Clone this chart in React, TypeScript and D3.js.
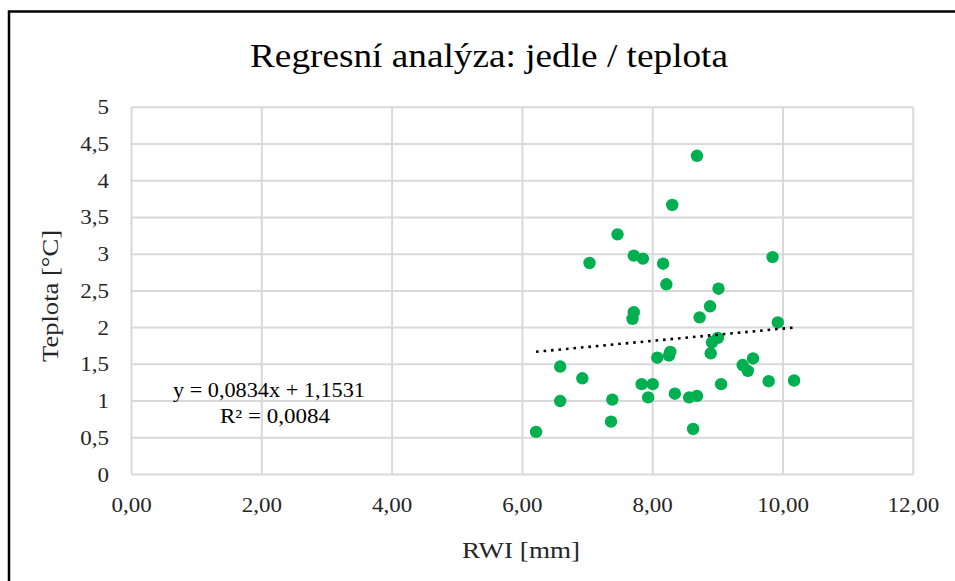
import * as d3 from 'd3';

const W = 955;
const H = 581;

// RWI [mm] vs Teplota [°C]
const rwi = [
  8.30, 7.46, 7.71, 7.85, 7.03, 8.16, 8.21, 7.71, 7.69, 8.68,
  9.84, 9.01, 8.88, 8.07, 8.25, 8.27, 6.58, 6.92, 7.83, 8.00,
  7.93, 8.34, 6.58, 7.38, 7.36, 6.21, 8.72, 9.92, 9.00, 8.91,
  8.89, 9.54, 9.38, 9.46, 9.05, 9.78, 10.17, 8.56, 8.68, 8.62,
];
const teplota = [
  3.67, 3.27, 2.98, 2.94, 2.88, 2.87, 2.59, 2.21, 2.12, 4.34,
  2.96, 2.53, 2.29, 1.59, 1.62, 1.67, 1.47, 1.31, 1.23, 1.23,
  1.05, 1.10, 1.00, 1.02, 0.72, 0.58, 2.14, 2.07, 1.86, 1.80,
  1.65, 1.58, 1.49, 1.41, 1.23, 1.27, 1.28, 1.05, 1.07, 0.62,
];
const xTicks = [0, 2, 4, 6, 8, 10, 12];
const yTicks = [0, 0.5, 1, 1.5, 2, 2.5, 3, 3.5, 4, 4.5, 5];
const slope = 0.0834;
const intercept = 1.1531;

const PLOT = { left: 131.5, right: 913.3, top: 107.3, bottom: 474.5 };
const FONT = '"Liberation Serif", "Times New Roman", serif';
const GRID = '#d9d9d9';
const TICK_FS = 20;
const STRETCH = 1.15; // the reference text is a bit wider than plain Times

const fmtComma = (v: number, digits: number) => v.toFixed(digits).replace('.', ',');
// digits are 0.5em, comma 0.25em in Times-like fonts
const labelWidth = (s: string) =>
  [...s].reduce((w, c) => w + (c === ',' ? 0.25 : 0.5), 0) * TICK_FS * STRETCH;

export default function App() {
  const x = d3.scaleLinear().domain([0, 12]).range([PLOT.left, PLOT.right]);
  const y = d3.scaleLinear().domain([0, 5]).range([PLOT.bottom, PLOT.top]);

  const [xMin, xMax] = d3.extent(rwi) as [number, number];
  const trend = d3.line<number>()
    .x(v => x(v))
    .y(v => y(slope * v + intercept))([xMin, xMax]);

  return (
    <svg
      width={W}
      height={H}
      style={{ position: 'absolute', left: 0, top: 0, background: '#fff' }}
      fontFamily={FONT}
    >
      <rect x={9} y={11.5} width={W} height={H} fill="#fff" stroke="#000" strokeWidth={2.5} />

      <text x={250} y={67} fontSize={33} fill="#000" textLength={478} lengthAdjust="spacingAndGlyphs">
        Regresní analýza: jedle / teplota
      </text>

      {/* grid */}
      {xTicks.map(t => (
        <line key={'gx' + t} x1={x(t)} x2={x(t)} y1={PLOT.top} y2={PLOT.bottom}
          stroke={GRID} strokeWidth={2} />
      ))}
      {yTicks.map(t => (
        <line key={'gy' + t} x1={PLOT.left} x2={PLOT.right} y1={y(t)} y2={y(t)}
          stroke={GRID} strokeWidth={2} />
      ))}

      {/* tick labels */}
      {yTicks.map(t => {
        const s = t % 1 === 0 ? String(t) : fmtComma(t, 1);
        const w = labelWidth(s);
        return (
          <text key={'ly' + t} x={109 - w} y={y(t) + 7} fontSize={TICK_FS} fill="#262626"
            textLength={w} lengthAdjust="spacingAndGlyphs">
            {s}
          </text>
        );
      })}
      {xTicks.map(t => {
        const s = fmtComma(t, 2);
        const w = labelWidth(s);
        return (
          <text key={'lx' + t} x={x(t) - w / 2} y={512} fontSize={TICK_FS} fill="#262626"
            textLength={w} lengthAdjust="spacingAndGlyphs">
            {s}
          </text>
        );
      })}

      {/* axis titles */}
      <text transform="translate(58,362) rotate(-90)" fontSize={23} fill="#262626"
        textLength={132} lengthAdjust="spacingAndGlyphs">
        Teplota [°C]
      </text>
      <text x={462} y={558} fontSize={23} fill="#262626"
        textLength={118} lengthAdjust="spacingAndGlyphs">
        RWI [mm]
      </text>

      {/* points */}
      {rwi.map((v, i) => (
        <circle key={i} cx={x(v)} cy={y(teplota[i])} r={6.2} fill="#00b050" />
      ))}

      {/* trend line */}
      <path d={trend ?? ''} fill="none" stroke="#000" strokeWidth={2.6}
        strokeDasharray="2.6 4.9" />

      {/* equation */}
      <text x={173} y={397} fontSize={20} fill="#000" textLength={192} lengthAdjust="spacingAndGlyphs">
        y = 0,0834x  + 1,1531
      </text>
      <text x={220} y={423} fontSize={20} fill="#000" textLength={110} lengthAdjust="spacingAndGlyphs">
        R² = 0,0084
      </text>
    </svg>
  );
}
